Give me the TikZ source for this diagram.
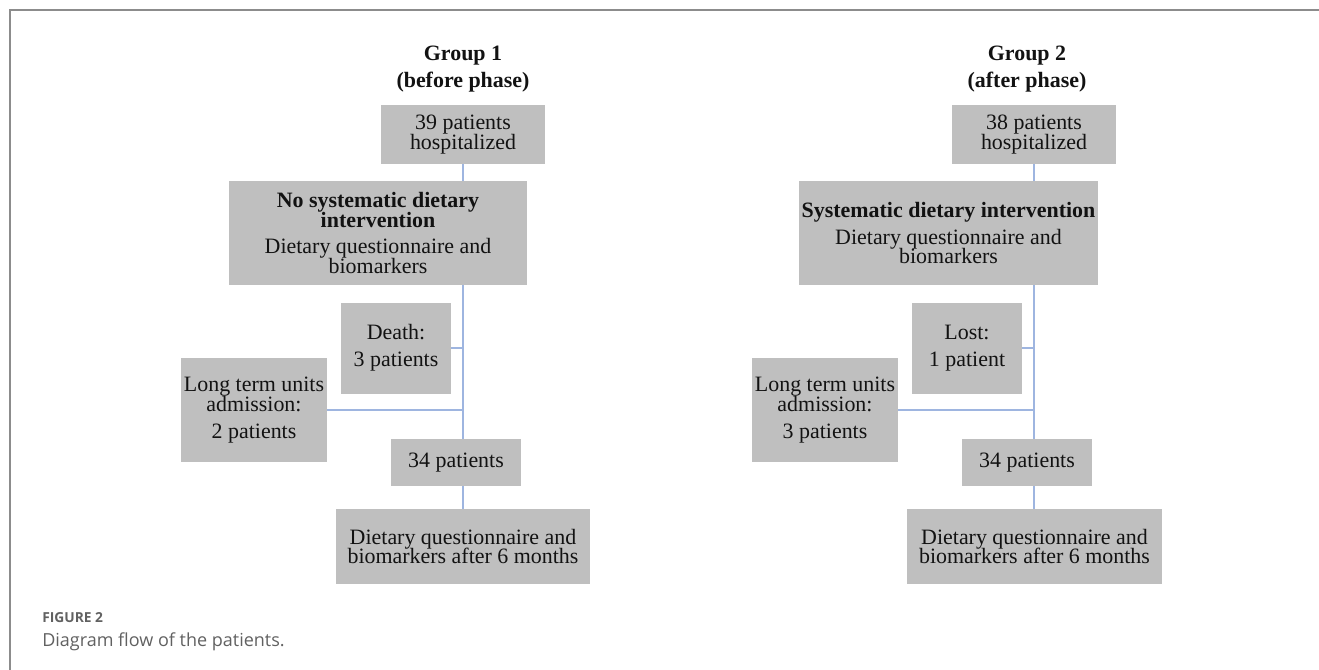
\documentclass[tikz,border=0pt]{standalone}
\usepackage{fontspec}
\setmainfont{Liberation Serif}
\newfontfamily\captionsans{Open Sans}
\usepackage{xcolor}
\definecolor{boxgray}{rgb}{0.75,0.75,0.75}
\definecolor{linkblue}{rgb}{0.62,0.71,0.88}
\definecolor{framegray}{rgb}{0.55,0.55,0.55}
\definecolor{captiongray}{rgb}{0.38,0.38,0.38}
\definecolor{inkblack}{rgb}{0.07,0.07,0.07}
\usepackage{tikz}
\newcommand\boxfont{\fontsize{15.6}{14.2}\selectfont\lineskiplimit=-10pt\relax}

\begin{document}
\begin{tikzpicture}[scale=1.0,
  box/.style={fill=boxgray, text=inkblack, align=center, inner sep=0pt, font=\boxfont},
  grouptitle/.style={text=inkblack, align=center, inner sep=0pt, font=\boxfont\bfseries},
  link/.style={draw=linkblue, line width=1pt}]
\useasboundingbox (0,0) rectangle (32.975,-16.75);
% frame
\draw[framegray, line width=0.05cm] (0.25,-16.75) -- (0.25,-0.25) -- (32.975,-0.25);
% group 1 (before phase)
\node[grouptitle] (title1) at (11.575,-1.72) {Group 1\\[4.8pt](before phase)};
\node[box, minimum width=4.1cm, minimum height=1.475cm] (hosp1) at (11.575,-3.3625) {39 patients\\hospitalized};
\node[box, minimum width=7.45cm, minimum height=2.6cm] (interv1) at (9.45,-5.825) {\textbf{No systematic dietary}\\\textbf{intervention}\\[5pt]Dietary questionnaire and\\biomarkers};
\node[box, minimum width=2.75cm, minimum height=2.275cm] (death) at (9.9,-8.7) {Death:\\[5pt]3 patients};
\node[box, minimum width=3.65cm, minimum height=2.6cm] (ltu1) at (6.35,-10.25) {Long term units\\admission:\\[5pt]2 patients};
\node[box, minimum width=3.25cm, minimum height=1.175cm] (pat1) at (11.4,-11.5625) {34 patients};
\node[box, minimum width=6.35cm, minimum height=1.875cm] (final1) at (11.575,-13.6625) {Dietary questionnaire and\\biomarkers after 6 months};
\draw[link] (hosp1.south) -- (hosp1.south |- interv1.north);
\draw[link] (interv1.south -| hosp1.south) -- (pat1.north -| hosp1.south);
\draw[link] (death.east) -- (death.east -| hosp1.south);
\draw[link] (ltu1.east) -- (ltu1.east -| hosp1.south);
\draw[link] (pat1.south -| hosp1.south) -- (final1.north -| hosp1.south);
% group 2 (after phase)
\node[grouptitle] (title2) at (25.675,-1.72) {Group 2\\[4.8pt](after phase)};
\node[box, minimum width=4.1cm, minimum height=1.475cm] (hosp2) at (25.85,-3.3625) {38 patients\\hospitalized};
\node[box, minimum width=7.475cm, minimum height=2.6cm] (interv2) at (23.7125,-5.825) {\textbf{Systematic dietary intervention}\\[5pt]Dietary questionnaire and\\biomarkers};
\node[box, minimum width=2.75cm, minimum height=2.275cm] (lost) at (24.175,-8.7) {Lost:\\[5pt]1 patient};
\node[box, minimum width=3.65cm, minimum height=2.6cm] (ltu2) at (20.625,-10.25) {Long term units\\admission:\\[5pt]3 patients};
\node[box, minimum width=3.25cm, minimum height=1.175cm] (pat2) at (25.675,-11.5625) {34 patients};
\node[box, minimum width=6.375cm, minimum height=1.875cm] (final2) at (25.8625,-13.6625) {Dietary questionnaire and\\biomarkers after 6 months};
\draw[link] (hosp2.south) -- (hosp2.south |- interv2.north);
\draw[link] (interv2.south -| hosp2.south) -- (pat2.north -| hosp2.south);
\draw[link] (lost.east) -- (lost.east -| hosp2.south);
\draw[link] (ltu2.east) -- (ltu2.east -| hosp2.south);
\draw[link] (pat2.south -| hosp2.south) -- (final2.north -| hosp2.south);
% caption
\node[anchor=base west, inner sep=0pt, text=captiongray, font=\captionsans\bfseries\fontsize{9.8}{11}\selectfont] (figlabel) at (1.05,-15.55) {FIGURE 2};
\node[anchor=base west, inner sep=0pt, text=captiongray, font=\captionsans\fontsize{12.8}{14}\selectfont] (figcaption) at (1.05,-16.15) {Diagram flow of the patients.};
\end{tikzpicture}
\end{document}
